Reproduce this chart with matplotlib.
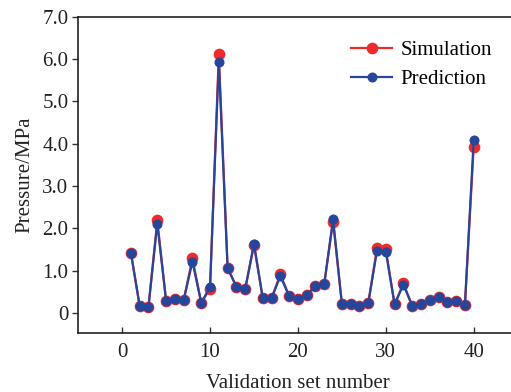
import numpy as np
import matplotlib
matplotlib.use('Agg')
import matplotlib.pyplot as plt

# validation set index
sets = list(range(1, 41))

simulation = [1.42, 0.16, 0.15, 2.19, 0.29, 0.34, 0.30, 1.29, 0.24, 0.57,
              6.12, 1.06, 0.62, 0.56, 1.60, 0.35, 0.35, 0.91, 0.40, 0.33,
              0.43, 0.63, 0.69, 2.16, 0.22, 0.22, 0.16, 0.23, 1.53, 1.50,
              0.20, 0.70, 0.17, 0.22, 0.31, 0.37, 0.26, 0.27, 0.18, 3.93]

prediction = [1.42, 0.16, 0.15, 2.11, 0.29, 0.34, 0.30, 1.21, 0.24, 0.61,
              5.94, 1.06, 0.62, 0.56, 1.64, 0.35, 0.35, 0.87, 0.40, 0.33,
              0.43, 0.63, 0.69, 2.22, 0.22, 0.22, 0.16, 0.23, 1.47, 1.45,
              0.20, 0.67, 0.17, 0.22, 0.31, 0.37, 0.26, 0.27, 0.18, 4.09]

yticks = [0, 1, 2, 3, 4, 5, 6, 7]
ytick_labels = ['0', '1.0', '2.0', '3.0', '4.0', '5.0', '6.0', '7.0']

plt.rcParams['font.family'] = ['Liberation Serif', 'DejaVu Serif']
plt.rcParams['font.size'] = 15

fig = plt.figure(figsize=(5.11, 3.92), dpi=100)
ax = fig.add_axes([0.153, 0.15, 0.86, 0.807])

ax.plot(sets, simulation, color='#ec2b2b', linewidth=1.6, marker='o',
        markersize=7.4, label='Simulation')
ax.plot(sets, prediction, color='#26469c', linewidth=1.6, marker='o',
        markersize=6.2, label='Prediction')

ax.set_xlim(-5, 45)
ax.set_ylim(-0.48, 7.0)
ax.set_xticks([0, 10, 20, 30, 40])
ax.set_yticks(yticks)
ax.set_yticklabels(ytick_labels)
ax.tick_params(axis='x', direction='in', length=4, width=1, pad=7,
               colors='#333333', labelcolor='#222222')
ax.tick_params(axis='y', direction='out', length=4, width=1, pad=3,
               colors='#333333', labelcolor='#222222')
for sp in ax.spines.values():
    sp.set_linewidth(1.2)
    sp.set_color('#222222')

ax.set_xlabel('Validation set number', color='#222222', labelpad=9)
ax.set_ylabel('Pressure/MPa', color='#222222', labelpad=6)

ax.legend(loc='upper right', bbox_to_anchor=(0.985, 0.985), frameon=False,
          handlelength=2.0, handletextpad=0.4, labelspacing=0.45)

fig.savefig('out.png', dpi=100)
